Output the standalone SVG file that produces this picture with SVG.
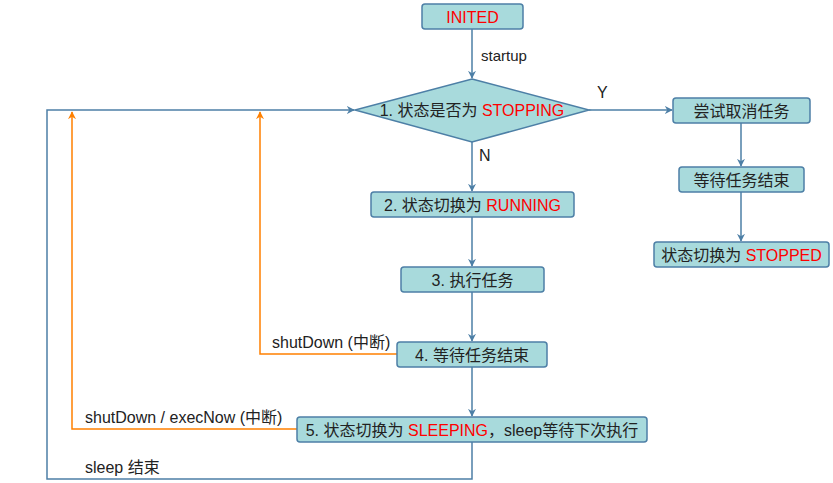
<svg xmlns="http://www.w3.org/2000/svg" width="833" height="483" viewBox="0 0 833 483">
<defs>
<style>
.box{fill:#a8dadc;stroke:#4d7fa6;stroke-width:1.5}
.t{font-family:"Liberation Sans","Noto Sans CJK SC",sans-serif;font-size:16px;fill:#222;text-anchor:middle;dominant-baseline:central}
.l{font-family:"Liberation Sans","Noto Sans CJK SC",sans-serif;font-size:16px;fill:#222;dominant-baseline:central}
.r{fill:#ff0000}
.b{fill:none;stroke:#4d7fa6;stroke-width:1.5}
.o{fill:none;stroke:#ff8000;stroke-width:1.5}
</style>
<marker id="ab" viewBox="0 0 10 10" refX="9" refY="5" markerWidth="8" markerHeight="8" markerUnits="userSpaceOnUse" orient="auto"><path d="M0,0 L10,5 L0,10 L3,5 z" fill="#4d7fa6"/></marker>
<marker id="ao" viewBox="0 0 10 10" refX="9" refY="5" markerWidth="8" markerHeight="8" markerUnits="userSpaceOnUse" orient="auto"><path d="M0,0 L10,5 L0,10 L3,5 z" fill="#ff8000"/></marker>
</defs>
<g id="connectors">
<path class="b" d="M472,29 V78" marker-end="url(#ab)"/>
<path class="b" d="M589,110 H672" marker-end="url(#ab)"/>
<path class="b" d="M741,123 V166" marker-end="url(#ab)"/>
<path class="b" d="M741,192 V241" marker-end="url(#ab)"/>
<path class="b" d="M472,142 V191" marker-end="url(#ab)"/>
<path class="b" d="M472,217 V266" marker-end="url(#ab)"/>
<path class="b" d="M472,292 V341" marker-end="url(#ab)"/>
<path class="b" d="M472,367 V416" marker-end="url(#ab)"/>
<path class="b" d="M472,442 V479 H47 V110 H354" marker-end="url(#ab)"/>
<path class="o" d="M397,354 H260 V112" marker-end="url(#ao)"/>
<path class="o" d="M297,429 H72 V112" marker-end="url(#ao)"/>
<text class="l" x="481" y="55" style="font-size:15px">startup</text>
<text class="l" x="597" y="92">Y</text>
<text class="l" x="479" y="155">N</text>
<text class="l" x="272" y="342">shutDown (中断)</text>
<text class="l" x="85" y="417">shutDown / execNow (中断)</text>
<text class="l" x="85" y="467">sleep 结束</text>
</g>
<g id="inited"><rect class="box" x="422" y="4" width="101" height="25" rx="3"/><text class="t" x="472.5" y="17"><tspan class="r">INITED</tspan></text></g>
<g id="check"><polygon class="box" points="472,79 589,110 472,142 355,110"/><text class="t" x="472" y="110">1. 状态是否为 <tspan class="r">STOPPING</tspan></text></g>
<g id="cancel"><rect class="box" x="673" y="98" width="137" height="25" rx="3"/><text class="t" x="741.5" y="111">尝试取消任务</text></g>
<g id="wait2"><rect class="box" x="679" y="167" width="125" height="25" rx="3"/><text class="t" x="741.5" y="180">等待任务结束</text></g>
<g id="stopped"><rect class="box" x="654" y="242" width="175" height="25" rx="3"/><text class="t" x="741.5" y="255">状态切换为 <tspan class="r">STOPPED</tspan></text></g>
<g id="running"><rect class="box" x="371" y="192" width="203" height="25" rx="3"/><text class="t" x="472.5" y="205">2. 状态切换为 <tspan class="r">RUNNING</tspan></text></g>
<g id="exec"><rect class="box" x="401" y="267" width="143" height="25" rx="3"/><text class="t" x="472.5" y="280">3. 执行任务</text></g>
<g id="wait"><rect class="box" x="397" y="342" width="150" height="25" rx="3"/><text class="t" x="472" y="355">4. 等待任务结束</text></g>
<g id="sleeping"><rect class="box" x="297" y="417" width="350" height="25" rx="3"/><text class="t" x="472" y="430">5. 状态切换为 <tspan class="r">SLEEPING</tspan>，sleep等待下次执行</text></g>
</svg>
